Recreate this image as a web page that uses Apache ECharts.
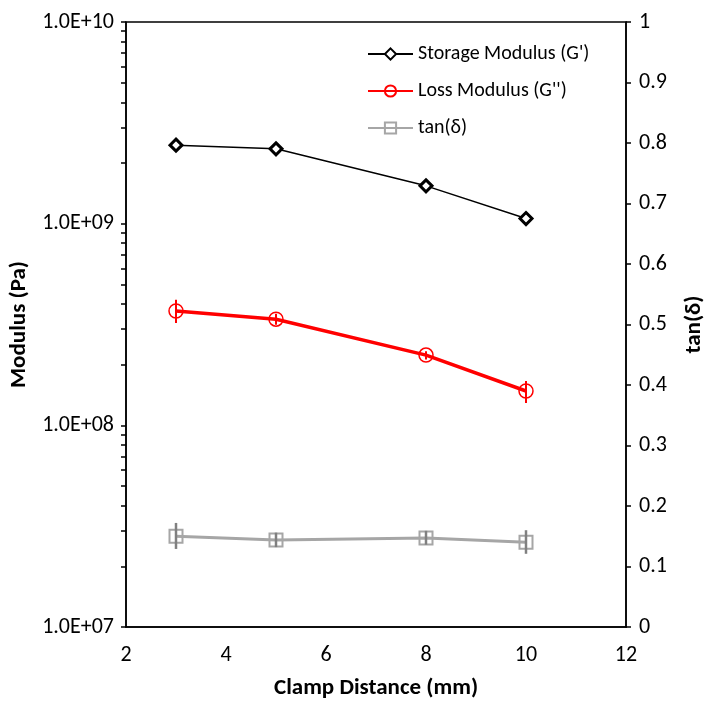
<!DOCTYPE html>
<html><head><meta charset="utf-8">
<script src="https://cdn.jsdelivr.net/npm/echarts@6/dist/echarts.min.js"></script>
<style>html,body{margin:0;padding:0;background:#fff}#c{width:710px;height:705px}</style>
</head><body><div id="c"></div>
<script>
const clampDistance = [3, 5, 8, 10];
const storageModulus = [2.45e9, 2.35e9, 1.54e9, 1.06e9];
const lossModulus = [3.69e8, 3.36e8, 2.23e8, 1.48e8];
const lossLow = [3.22e8, 3.15e8, 2.12e8, 1.29e8];
const lossHigh = [4.19e8, 3.58e8, 2.33e8, 1.66e8];
const tanDelta = [0.150, 0.144, 0.147, 0.140];
const tanLow = [0.129, 0.132, 0.136, 0.121];
const tanHigh = [0.172, 0.156, 0.159, 0.160];
const modulusTicks = [];
for (let e = 7; e < 10; e++) for (let m = 1; m < 10; m++) modulusTicks.push(m * Math.pow(10, e));
modulusTicks.push(1e10);

const FONT = 'Carlito, Lato, sans-serif';
function sci(v) {
  const e = Math.round(Math.log10(v));
  const m = v / Math.pow(10, e);
  return m.toFixed(1) + 'E+' + String(e).padStart(2, '0');
}
function errSeries(name, low, high, yIdx, color, width) {
  return {
    type: 'custom', name: name, yAxisIndex: yIdx, z: 5, silent: true,
    data: clampDistance.map((x, i) => [x, low[i], high[i]]),
    renderItem: function (params, api) {
      const a = api.coord([api.value(0), api.value(1)]);
      const b = api.coord([api.value(0), api.value(2)]);
      return { type: 'line', shape: { x1: a[0], y1: a[1], x2: b[0], y2: b[1] },
        style: { stroke: color, lineWidth: width } };
    }
  };
}
const chart = echarts.init(document.getElementById('c'), null, { renderer: 'canvas' });
chart.setOption({
  animation: false,
  backgroundColor: '#fff',
  grid: { left: 126, right: 84, top: 22, bottom: 78, show: true, borderColor: '#000', borderWidth: 1.5,
    containLabel: false, outerBoundsMode: 'none' },
  legend: {
    orient: 'vertical', left: 362, top: 38, itemWidth: 45, itemHeight: 14, itemGap: 15,
    textStyle: { fontFamily: FONT, fontSize: 20, lineHeight: 22, color: '#000' },
    data: ["Storage Modulus (G')", "Loss Modulus (G'')", 'tan(δ)']
  },
  xAxis: {
    type: 'value', min: 2, max: 12, interval: 2,
    name: 'Clamp Distance (mm)', nameLocation: 'middle', nameGap: 50,
    nameTextStyle: { fontFamily: FONT, fontSize: 23, fontWeight: 'bold', color: '#000' },
    axisLine: { lineStyle: { color: '#000', width: 1.5 } },
    axisTick: { show: false },
    axisLabel: { fontFamily: FONT, fontSize: 22, color: '#000', margin: 17 },
    splitLine: { show: false }
  },
  yAxis: [{
    type: 'log', logBase: 10, min: 1e7, max: 1e10,
    name: 'Modulus (Pa)', nameLocation: 'middle', nameGap: 95,
    nameTextStyle: { fontFamily: FONT, fontSize: 23, fontWeight: 'bold', color: '#000' },
    axisLine: { show: true, lineStyle: { color: '#000', width: 1.5 } },
    axisTick: { show: true, inside: false, length: 5, lineStyle: { color: '#000', width: 1.5 }, customValues: modulusTicks },
    axisLabel: { fontFamily: FONT, fontSize: 22, color: '#000', margin: 12, formatter: sci },
    splitLine: { show: false }
  }, {
    type: 'value', min: 0, max: 1, interval: 0.1, position: 'right',
    name: 'tan(δ)', nameLocation: 'middle', nameGap: 57,
    nameTextStyle: { fontFamily: FONT, fontSize: 23, fontWeight: 'bold', color: '#000' },
    axisLine: { show: true, lineStyle: { color: '#000', width: 1.5 } },
    axisTick: { show: true, inside: false, length: 5, lineStyle: { color: '#000', width: 1.5 } },
    axisLabel: { fontFamily: FONT, fontSize: 22, color: '#000', margin: 13,
      formatter: v => String(Math.round(v * 10) / 10) },
    splitLine: { show: false }
  }],
  series: [{
    name: "Storage Modulus (G')", type: 'line', yAxisIndex: 0, z: 4,
    data: clampDistance.map((x, i) => [x, storageModulus[i]]),
    symbol: 'diamond', symbolSize: 12,
    lineStyle: { color: '#000', width: 1.5 },
    itemStyle: { color: '#fff', borderColor: '#000', borderWidth: 3 }
  }, {
    name: "Loss Modulus (G'')", type: 'line', yAxisIndex: 0, z: 4,
    data: clampDistance.map((x, i) => [x, lossModulus[i]]),
    symbol: 'circle', symbolSize: 14,
    lineStyle: { color: '#ff0000', width: 3.5 },
    itemStyle: { color: 'rgba(255,255,255,0)', borderColor: '#ff0000', borderWidth: 1.5 }
  }, {
    name: 'tan(δ)', type: 'line', yAxisIndex: 1, z: 4,
    data: clampDistance.map((x, i) => [x, tanDelta[i]]),
    symbol: 'rect', symbolSize: 13,
    lineStyle: { color: '#a6a6a6', width: 3 },
    itemStyle: { color: 'rgba(255,255,255,0)', borderColor: '#a6a6a6', borderWidth: 2 }
  },
  errSeries('lossErr', lossLow, lossHigh, 0, '#ff0000', 2),
  errSeries('tanErr', tanLow, tanHigh, 1, '#808080', 2.5)
  ]
});
</script></body></html>
